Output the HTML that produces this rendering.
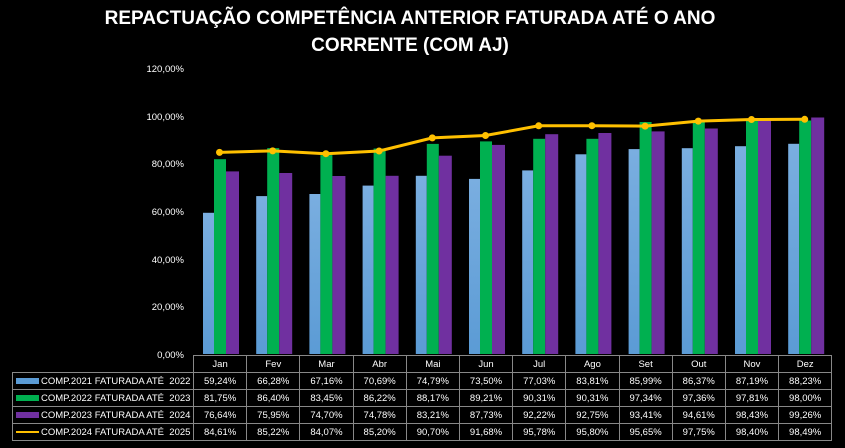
<!DOCTYPE html>
<html><head><meta charset="utf-8"><style>
body{margin:0;background:#000;width:845px;height:448px;overflow:hidden;font-family:"Liberation Sans",sans-serif;position:relative;}
svg{position:absolute;left:0;top:0;}
table{position:absolute;left:12px;top:355px;border-collapse:collapse;color:#fff;font-size:9.5px;table-layout:fixed;}
td{border:1px solid #888;text-align:center;padding:0;white-space:nowrap;overflow:hidden;}
tr.h td{height:16px;}
tr.d td{height:16px;}
td.n{text-align:left;width:180px;}
td.e{border:none;border-bottom:1px solid #888;}
.k{display:inline-block;width:23px;height:6px;margin:0 2px 0 3px;vertical-align:middle;}
</style></head><body>
<svg width="845" height="448" xmlns="http://www.w3.org/2000/svg" font-family="Liberation Sans, sans-serif">
<defs>
<linearGradient id="gb" x1="0" y1="0" x2="0" y2="1"><stop offset="0" stop-color="#7aaee0"/><stop offset="1" stop-color="#5b9bd5"/></linearGradient>
</defs>
<text x="410" y="24" fill="#fff" font-size="19" font-weight="bold" text-anchor="middle">REPACTUAÇÃO COMPETÊNCIA ANTERIOR FATURADA ATÉ O ANO</text>
<text x="410" y="51" fill="#fff" font-size="19" font-weight="bold" text-anchor="middle">CORRENTE (COM AJ)</text>
<g fill="#fff" font-size="9.5" text-anchor="end">
<text x="184" y="72">120,00%</text><text x="184" y="120">100,00%</text><text x="184" y="167">80,00%</text>
<text x="184" y="215">60,00%</text><text x="184" y="263">40,00%</text><text x="184" y="310">20,00%</text><text x="184" y="358">0,00%</text>
</g>
<g fill="url(#gb)">
<rect x="203" y="212.8" width="11" height="141.2"/>
<rect x="256.2" y="196.1" width="11" height="157.9"/>
<rect x="309.4" y="194" width="11" height="160"/>
<rect x="362.6" y="185.6" width="11" height="168.4"/>
<rect x="415.8" y="175.8" width="11" height="178.2"/>
<rect x="469" y="178.9" width="11" height="175.1"/>
<rect x="522.2" y="170.4" width="11" height="183.6"/>
<rect x="575.4" y="154.3" width="11" height="199.7"/>
<rect x="628.6" y="149.1" width="11" height="204.9"/>
<rect x="681.8" y="148.2" width="11" height="205.8"/>
<rect x="735" y="146.2" width="11" height="207.8"/>
<rect x="788.2" y="143.8" width="11" height="210.2"/>
</g>
<g fill="#00b050">
<rect x="214" y="159.2" width="12" height="194.8"/>
<rect x="267.2" y="148.1" width="12" height="205.9"/>
<rect x="320.4" y="155.1" width="12" height="198.9"/>
<rect x="373.6" y="148.5" width="12" height="205.5"/>
<rect x="426.8" y="143.9" width="12" height="210.1"/>
<rect x="480" y="141.4" width="12" height="212.6"/>
<rect x="533.2" y="138.8" width="12" height="215.2"/>
<rect x="586.4" y="138.8" width="12" height="215.2"/>
<rect x="639.6" y="122" width="12" height="232"/>
<rect x="692.8" y="122" width="12" height="232"/>
<rect x="746" y="120.9" width="12" height="233.1"/>
<rect x="799.2" y="120.5" width="12" height="233.5"/>
</g>
<g fill="#7030a0">
<rect x="226" y="171.4" width="13" height="182.6"/>
<rect x="279.2" y="173" width="13" height="181"/>
<rect x="332.4" y="176" width="13" height="178"/>
<rect x="385.6" y="175.8" width="13" height="178.2"/>
<rect x="438.8" y="155.7" width="13" height="198.3"/>
<rect x="492" y="144.9" width="13" height="209.1"/>
<rect x="545.2" y="134.2" width="13" height="219.8"/>
<rect x="598.4" y="133" width="13" height="221"/>
<rect x="651.6" y="131.4" width="13" height="222.6"/>
<rect x="704.8" y="128.5" width="13" height="225.5"/>
<rect x="758" y="119.4" width="13" height="234.6"/>
<rect x="811.2" y="117.5" width="13" height="236.5"/>
</g>
<polyline points="219.5,152.4 272.7,150.9 325.9,153.7 379.1,151 432.3,137.9 485.5,135.5 538.7,125.8 591.9,125.7 645.1,126.1 698.3,121.1 751.5,119.5 804.7,119.3" fill="none" stroke="#ffc000" stroke-width="3"/>
<g fill="#ffc000">
<circle cx="219.5" cy="152.4" r="3.5"/><circle cx="272.7" cy="150.9" r="3.5"/><circle cx="325.9" cy="153.7" r="3.5"/><circle cx="379.1" cy="151" r="3.5"/><circle cx="432.3" cy="137.9" r="3.5"/><circle cx="485.5" cy="135.5" r="3.5"/><circle cx="538.7" cy="125.8" r="3.5"/><circle cx="591.9" cy="125.7" r="3.5"/><circle cx="645.1" cy="126.1" r="3.5"/><circle cx="698.3" cy="121.1" r="3.5"/><circle cx="751.5" cy="119.5" r="3.5"/><circle cx="804.7" cy="119.3" r="3.5"/>
</g>
</svg>
<table>
<colgroup><col style="width:181px"><col span="12" style="width:53.2px"></colgroup>
<tr class="h"><td class="e" style="border-left:none;border-top:none"></td><td>Jan</td><td>Fev</td><td>Mar</td><td>Abr</td><td>Mai</td><td>Jun</td><td>Jul</td><td>Ago</td><td>Set</td><td>Out</td><td>Nov</td><td>Dez</td></tr>
<tr class="d"><td class="n"><span class="k" style="background:#5b9bd5"></span>COMP.2021 FATURADA ATÉ&nbsp; 2022</td><td>59,24%</td><td>66,28%</td><td>67,16%</td><td>70,69%</td><td>74,79%</td><td>73,50%</td><td>77,03%</td><td>83,81%</td><td>85,99%</td><td>86,37%</td><td>87,19%</td><td>88,23%</td></tr>
<tr class="d"><td class="n"><span class="k" style="background:#00b050"></span>COMP.2022 FATURADA ATÉ&nbsp; 2023</td><td>81,75%</td><td>86,40%</td><td>83,45%</td><td>86,22%</td><td>88,17%</td><td>89,21%</td><td>90,31%</td><td>90,31%</td><td>97,34%</td><td>97,36%</td><td>97,81%</td><td>98,00%</td></tr>
<tr class="d"><td class="n"><span class="k" style="background:#7030a0"></span>COMP.2023 FATURADA ATÉ&nbsp; 2024</td><td>76,64%</td><td>75,95%</td><td>74,70%</td><td>74,78%</td><td>83,21%</td><td>87,73%</td><td>92,22%</td><td>92,75%</td><td>93,41%</td><td>94,61%</td><td>98,43%</td><td>99,26%</td></tr>
<tr class="d"><td class="n"><span class="k" style="background:linear-gradient(#000 2px,#ffc000 2px,#ffc000 4px,#000 4px)"></span>COMP.2024 FATURADA ATÉ&nbsp; 2025</td><td>84,61%</td><td>85,22%</td><td>84,07%</td><td>85,20%</td><td>90,70%</td><td>91,68%</td><td>95,78%</td><td>95,80%</td><td>95,65%</td><td>97,75%</td><td>98,40%</td><td>98,49%</td></tr>
</table>
</body></html>
